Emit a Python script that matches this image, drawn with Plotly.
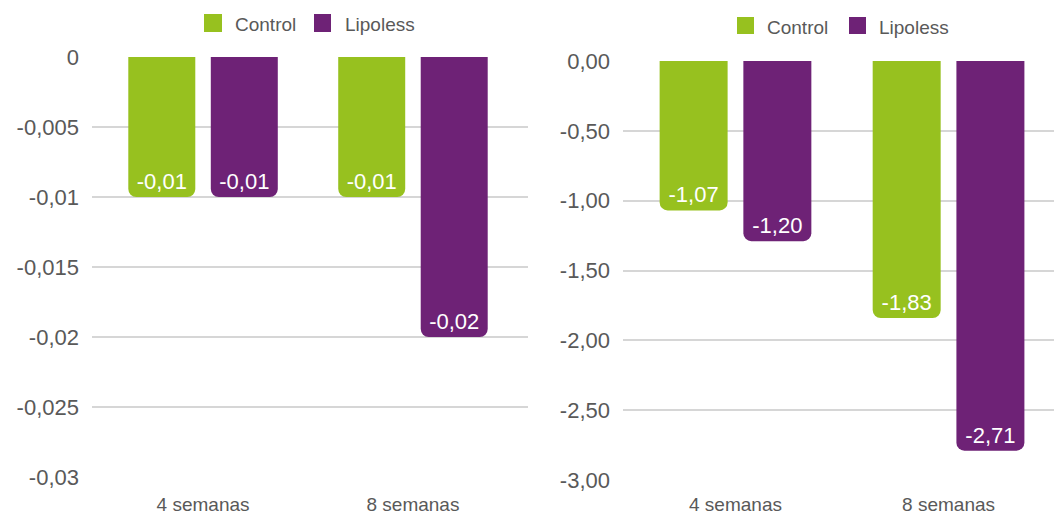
import plotly.graph_objects as go

# ---- data ----
categories = ["4 semanas", "8 semanas"]
series_names = ["Control", "Lipoless"]

left_control = [-0.01, -0.01]
left_lipoless = [-0.01, -0.02]
left_control_labels = ["-0,01", "-0,01"]
left_lipoless_labels = ["-0,01", "-0,02"]
left_tickvals = [0, -0.005, -0.01, -0.015, -0.02, -0.025, -0.03]
left_ticktext = ["0", "-0,005", "-0,01", "-0,015", "-0,02", "-0,025", "-0,03"]

right_control = [-1.07, -1.84]
right_lipoless = [-1.29, -2.79]
right_control_labels = ["-1,07", "-1,83"]
right_lipoless_labels = ["-1,20", "-2,71"]
right_tickvals = [0, -0.5, -1.0, -1.5, -2.0, -2.5, -3.0]
right_ticktext = ["0,00", "-0,50", "-1,00", "-1,50", "-2,00", "-2,50", "-3,00"]

# ---- style ----
GREEN = "#97C11F"
PURPLE = "#6E2276"
FONT = "Liberation Sans, Arial, sans-serif"
GREY = "#595959"
GRID = "#d6d6d6"
W, H = 1054, 515

fig = go.Figure()

def add_bar(x, y, labels, color, xa, ya):
    fig.add_trace(go.Bar(
        x=x, y=y, text=labels, textposition="inside", insidetextanchor="end",
        textfont=dict(color="white", size=22, family=FONT),
        marker=dict(color=color, cornerradius=8, line=dict(width=0)),
        xaxis=xa, yaxis=ya, showlegend=False, cliponaxis=False,
        textangle=0,
    ))

add_bar(categories, left_control, left_control_labels, GREEN, "x", "y")
add_bar(categories, left_lipoless, left_lipoless_labels, PURPLE, "x", "y")
add_bar(categories, right_control, right_control_labels, GREEN, "x2", "y2")
add_bar(categories, right_lipoless, right_lipoless_labels, PURPLE, "x2", "y2")

def px_x(p):
    return p / W

def px_y(p):
    return 1 - p / H

axis_common = dict(showline=False, zeroline=False, ticks="", automargin=False,
                   tickfont=dict(family=FONT, size=22, color=GREY))
xaxis_common = dict(showgrid=False, zeroline=False, showline=False, ticks="",
                    automargin=False,
                    tickfont=dict(family=FONT, size=19, color=GREY))

fig.update_layout(
    width=W, height=H,
    margin=dict(l=0, r=0, t=0, b=0),
    paper_bgcolor="white", plot_bgcolor="white",
    barmode="group", bargap=0.214, bargroupgap=0.188,
    xaxis=dict(domain=[px_x(92), px_x(528)], range=[-0.529, 1.548],
               anchor="y", ticklabelstandoff=14, **xaxis_common),
    yaxis=dict(domain=[px_y(477), px_y(57)], range=[-0.03, 0],
               tickvals=left_tickvals, ticktext=left_ticktext,
               showgrid=True, gridcolor=GRID, gridwidth=1.6,
               ticklabelstandoff=12, anchor="x", **axis_common),
    xaxis2=dict(domain=[px_x(623), 1.0], range=[-0.528, 1.495],
                anchor="y2", ticklabelstandoff=11, **xaxis_common),
    yaxis2=dict(domain=[px_y(480), px_y(61)], range=[-3.0, 0],
                tickvals=right_tickvals, ticktext=right_ticktext,
                showgrid=True, gridcolor=GRID, gridwidth=1.6,
                ticklabelstandoff=12, anchor="x2", **axis_common),
)

# ---- manual legends (swatches + text) ----
def legend(items):
    for (x0, x1, y0, y1, tx, ty, name, color) in items:
        fig.add_shape(type="rect", xref="paper", yref="paper",
                      x0=px_x(x0), x1=px_x(x1), y0=px_y(y1), y1=px_y(y0),
                      fillcolor=color, line=dict(width=0))
        fig.add_annotation(xref="paper", yref="paper", x=px_x(tx), y=px_y(ty),
                           text=name, showarrow=False, xanchor="left", yanchor="middle",
                           font=dict(family=FONT, size=19, color=GREY))

legend([
    (204, 222, 14, 32, 233, 24, series_names[0], GREEN),
    (314, 331, 14, 32, 343, 24, series_names[1], PURPLE),
    (737, 754, 17, 34, 765, 27, series_names[0], GREEN),
    (849, 866, 17, 34, 877, 27, series_names[1], PURPLE),
])

fig.write_html("out.html")
